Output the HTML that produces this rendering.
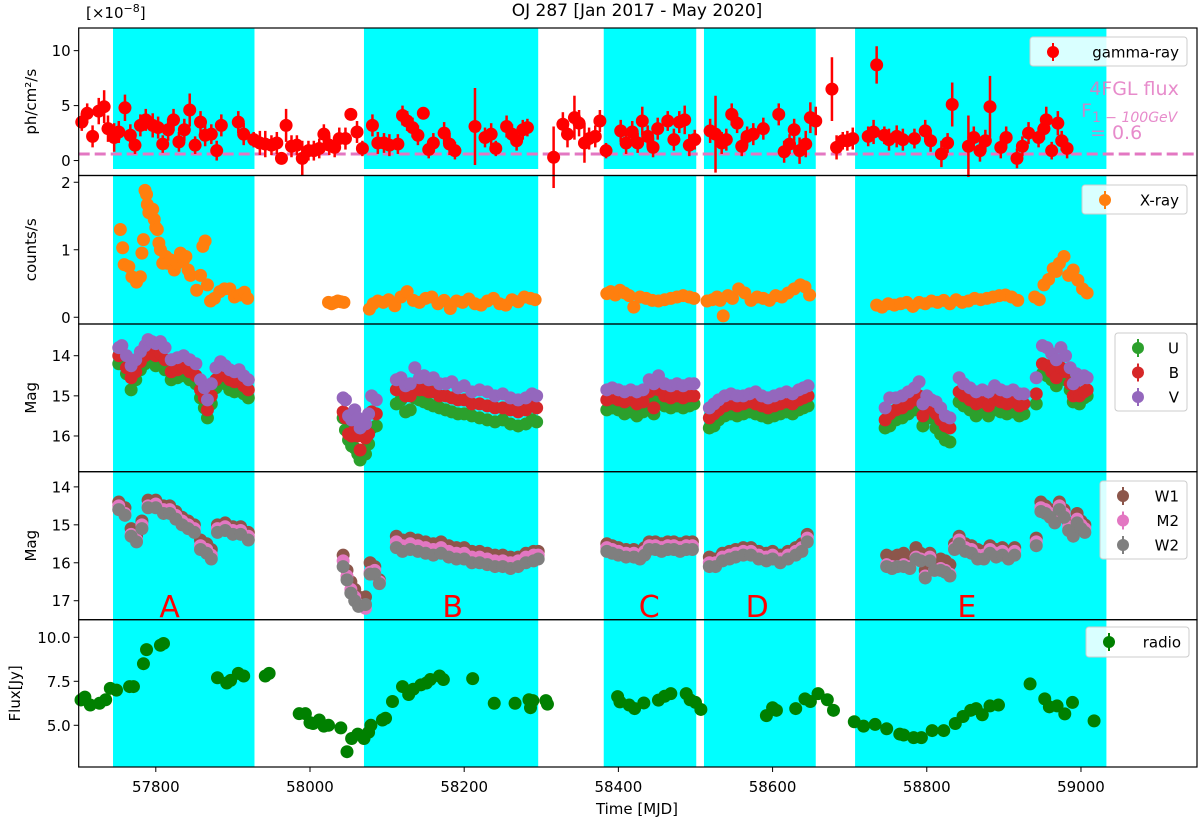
<!DOCTYPE html>
<html><head><meta charset="utf-8">
<style>
body{margin:0;background:#fff;}
svg{display:block;font-family:"DejaVu Sans","Liberation Sans",sans-serif;}
</style></head>
<body>
<svg id="chart" width="1200" height="825" viewBox="0 0 1200 825"></svg>
<script>
// ---- data ----
const bandStarts=[57744.5,58070,58381,58511,58707];
const bandEnds=[57928,58296,58501,58656,59033];
const bandLabels=["A","B","C","D","E"];
const bandLabelX=[57818,58185,58440,58580,58852];

const gT=[57704,57711,57718,57726,57733,57738,57746,57752,57760,57767,57773,57780,57787,57796,57803,57809,57816,57823,57830,57837,57844,57851,57858,57864,57872,57879,57885,57907,57914,57927,57935,57942,57950,57957,57963,57969,57976,57983,57990,57998,58005,58012,58018,58025,58032,58038,58046,58053,58061,58068,58081,58088,58096,58103,58114,58120,58126,58133,58140,58147,58154,58160,58174,58181,58188,58214,58227,58235,58241,58255,58262,58268,58276,58282,58316,58328,58334,58343,58349,58356,58362,58370,58376,58384,58403,58410,58418,58425,58431,58438,58445,58451,58464,58472,58479,58486,58492,58499,58519,58526,58534,58540,58547,58554,58560,58567,58575,58588,58608,58615,58622,58628,58635,58643,58649,58656,58677,58683,58691,58697,58704,58724,58731,58735,58745,58751,58761,58769,58784,58798,58805,58819,58827,58833,58854,58861,58869,58876,58882,58896,58903,58917,58924,58932,58945,58952,58955,58962,58970,58975,58982];
const gV=[3.5,4.3,2.2,4.5,4.9,2.9,2.1,2.6,4.8,2.3,1.4,3.2,3.7,3.2,3.0,1.5,2.8,3.7,1.7,2.8,4.6,1.4,3.5,2.3,2.4,0.9,3.2,3.5,2.4,1.9,1.6,1.5,1.4,1.6,0.2,3.2,1.3,1.4,0.2,0.9,0.9,1.1,2.4,1.4,1.2,2.0,2.0,4.2,2.6,1.1,3.2,1.6,1.6,1.4,1.5,4.1,3.6,3.0,2.3,4.3,1.0,1.6,2.5,1.5,0.9,3.1,2.1,2.4,1.1,3.1,2.4,1.8,2.8,3.0,0.3,3.3,2.4,3.9,3.4,1.6,2.0,2.2,3.6,0.9,2.7,1.6,2.6,1.6,3.6,2.2,1.2,2.9,3.6,1.9,3.5,3.7,1.4,1.9,2.7,2.4,1.6,1.9,4.2,3.4,1.3,2.2,2.4,2.9,4.2,0.8,1.5,2.8,0.9,1.5,3.9,3.6,6.5,1.2,1.8,1.8,2.0,2.2,2.6,8.7,2.3,1.9,2.2,1.9,2.0,2.7,1.8,0.6,1.6,5.1,1.3,2.1,0.9,1.8,4.9,1.2,2.1,0.2,1.3,2.5,2.1,2.9,3.7,0.9,3.4,1.8,1.1];
const gE=[0.8,0.9,1.0,1.2,1.5,1.2,1.3,1.0,1.2,1.0,0.8,1.0,1.0,1.1,1.0,0.8,1.0,1.0,0.9,1.0,1.5,0.8,1.0,1.0,0.9,0.9,1.0,1.0,1.0,0.7,1.1,1.2,0.9,1.0,0,1.5,1.0,0.9,1.6,0.9,0.9,0.9,0.9,0.9,0.9,1.0,1.0,0,1.0,0.7,1.0,1.0,0.9,1.0,0.9,0.9,0.9,0.9,0.9,0,0.8,0.9,1.0,1.0,0.8,3.5,0.9,1.0,0.7,1.0,0.9,0.9,0.9,0.8,2.8,1.1,1.2,2.0,1.2,1.8,1.0,1.0,1.0,0.7,1.0,1.0,1.0,0.9,1.3,1.0,0.9,1.0,0.9,1.0,1.0,1.3,1.0,0.9,1.1,3.5,1.0,1.0,1.0,0.9,0.9,0.9,1.0,1.0,1.0,1.0,0.9,1.0,1.2,1.2,1.4,1.3,2.9,1.1,0.8,0.9,1.0,0.9,1.1,1.7,0.8,1.0,1.0,1.0,0.9,1.0,1.0,1.2,0.9,2.0,2.8,1.0,1.0,1.0,2.8,1.0,1.0,0.9,0.9,1.0,0.9,1.0,1.2,0.8,1.1,0.9,0.9];

const xT=[57754,57757,57759,57765,57769,57775,57780,57782,57784,57786,57788,57789,57791,57796,57798,57800,57802,57804,57806,57809,57813,57815,57819,57824,57828,57832,57836,57839,57842,57845,57853,57858,57861,57864,57867,57871,57876,57883,57889,57896,57902,57909,57915,57919,58024,58028,58032,58036,58040,58044,58077,58082,58088,58095,58102,58110,58118,58126,58134,58142,58150,58158,58166,58174,58182,58190,58198,58206,58214,58222,58230,58238,58246,58254,58262,58270,58278,58286,58292,58385,58390,58396,58402,58408,58414,58420,58428,58436,58444,58452,58460,58468,58476,58484,58492,58498,58515,58522,58528,58532,58536,58542,58548,58556,58564,58572,58580,58588,58596,58604,58612,58620,58628,58636,58642,58648,58735,58742,58750,58758,58766,58774,58782,58790,58798,58806,58814,58822,58830,58838,58846,58854,58862,58870,58878,58886,58894,58902,58910,58918,58940,58946,58952,58958,58964,58968,58972,58978,58984,58990,58996,59002,59008];
const xV=[1.3,1.03,0.78,0.75,0.6,0.52,0.6,0.95,1.15,1.88,1.82,1.67,1.55,1.6,1.45,1.33,1.3,1.1,1.0,0.8,0.9,0.8,0.85,0.7,0.8,0.95,0.85,0.9,0.7,0.62,0.4,0.62,1.05,1.13,0.48,0.24,0.28,0.38,0.42,0.42,0.3,0.33,0.37,0.28,0.22,0.2,0.22,0.24,0.23,0.22,0.12,0.2,0.24,0.22,0.26,0.17,0.3,0.38,0.25,0.22,0.28,0.3,0.2,0.25,0.13,0.24,0.22,0.27,0.2,0.18,0.24,0.28,0.2,0.18,0.26,0.23,0.3,0.28,0.26,0.35,0.38,0.33,0.4,0.36,0.32,0.15,0.3,0.28,0.25,0.24,0.26,0.28,0.3,0.32,0.3,0.28,0.24,0.26,0.3,0.25,0.02,0.32,0.28,0.42,0.36,0.25,0.3,0.28,0.25,0.32,0.3,0.36,0.42,0.48,0.45,0.33,0.18,0.15,0.2,0.18,0.2,0.22,0.16,0.22,0.2,0.24,0.22,0.25,0.2,0.26,0.22,0.24,0.28,0.26,0.28,0.3,0.32,0.33,0.3,0.25,0.3,0.26,0.48,0.56,0.72,0.68,0.8,0.9,0.62,0.7,0.55,0.42,0.36,0.45,0.38];

const oT=[57752,57756,57762,57768,57774,57780,57786,57790,57795,57800,57806,57812,57820,57828,57836,57844,57852,57858,57863,57867,57872,57878,57884,57890,57896,57902,57908,57914,57920,58043,58046,58050,58054,58058,58062,58065,58072,58076,58080,58086,58112,58118,58124,58130,58136,58142,58148,58154,58160,58168,58176,58184,58192,58200,58210,58220,58230,58240,58250,58260,58270,58280,58288,58294,58385,58392,58400,58408,58416,58424,58432,58440,58446,58452,58460,58468,58476,58484,58492,58498,58518,58524,58530,58538,58546,58554,58562,58570,58578,58586,58594,58602,58610,58618,58626,58634,58640,58646,58746,58752,58760,58768,58776,58784,58790,58795,58800,58806,58812,58818,58824,58830,58842,58848,58856,58864,58872,58880,58888,58896,58904,58912,58920,58926,58942,58950,58956,58962,58968,58974,58980,58986,58990,58994,58998,59004,59008];
const oVv=[13.8,13.75,14.0,14.25,14.1,13.9,13.75,13.6,13.65,13.7,13.65,13.8,14.1,14.05,14.0,14.1,14.2,14.6,14.8,15.1,14.7,14.3,14.15,14.25,14.35,14.4,14.35,14.5,14.6,15.05,15.1,15.5,15.6,15.35,15.55,15.8,15.7,15.45,15.0,15.1,14.6,14.55,14.75,14.7,14.3,14.55,14.5,14.6,14.55,14.7,14.7,14.65,14.8,14.75,14.9,14.85,14.9,15.0,14.95,15.05,15.1,15.05,14.95,15.0,14.85,14.8,14.85,14.9,14.85,14.9,14.85,14.6,14.7,14.5,14.7,14.75,14.7,14.75,14.7,14.7,15.3,15.2,15.1,15.0,14.95,15.0,15.0,14.95,14.9,15.0,15.05,15.0,14.95,14.9,14.95,14.85,14.8,14.75,15.3,15.05,15.05,15.0,14.9,14.8,14.65,15.2,15.0,15.1,15.15,15.3,15.5,15.55,14.55,14.7,14.8,14.9,14.85,14.9,14.75,14.85,14.9,14.85,14.95,14.95,14.55,13.75,13.8,13.95,14.1,13.8,14.0,14.3,14.7,14.45,14.6,14.5,14.55];
const oB=[14.0,13.95,14.3,14.55,14.4,14.15,14.0,13.9,13.95,14.0,13.95,14.1,14.4,14.35,14.3,14.4,14.5,14.85,15.05,15.35,15.0,14.6,14.4,14.5,14.6,14.65,14.6,14.75,14.85,15.4,15.55,15.95,16.0,15.85,16.0,16.35,16.05,15.95,15.4,15.45,14.85,14.8,15.0,15.0,14.7,14.85,14.85,14.9,14.9,15.0,15.0,15.05,15.1,15.1,15.2,15.2,15.25,15.3,15.3,15.35,15.4,15.35,15.25,15.3,15.1,15.05,15.1,15.15,15.1,15.2,15.15,14.9,15.3,14.85,15.0,15.05,15.0,15.05,15.0,15.0,15.55,15.45,15.35,15.25,15.2,15.25,15.2,15.15,15.2,15.25,15.3,15.25,15.2,15.15,15.2,15.1,15.05,15.0,15.6,15.45,15.35,15.3,15.2,15.1,15.0,15.5,15.25,15.3,15.45,15.6,15.75,15.8,14.9,15.0,15.1,15.2,15.15,15.25,15.1,15.15,15.2,15.15,15.25,15.2,14.95,14.2,14.25,14.4,14.55,14.3,14.4,14.7,15.0,14.9,15.0,14.9,14.85];
const oU=[14.2,14.15,14.45,14.85,14.6,14.35,14.2,14.1,14.15,14.25,14.2,14.35,14.6,14.55,14.5,14.6,14.7,15.05,15.3,15.55,15.2,14.8,14.6,14.7,14.85,14.9,14.85,14.95,15.05,15.55,15.85,16.1,16.25,16.3,16.45,16.6,16.45,16.2,15.8,15.75,15.2,15.1,15.4,15.35,15.05,15.1,15.15,15.2,15.25,15.3,15.35,15.4,15.45,15.45,15.5,15.55,15.6,15.65,15.6,15.7,15.75,15.7,15.6,15.65,15.35,15.3,15.35,15.45,15.4,15.5,15.4,15.15,15.45,15.1,15.25,15.3,15.25,15.3,15.25,15.2,15.8,15.75,15.6,15.5,15.45,15.5,15.45,15.4,15.45,15.5,15.55,15.5,15.45,15.4,15.45,15.35,15.3,15.25,15.8,15.75,15.6,15.55,15.45,15.35,15.25,15.75,15.5,15.55,15.8,15.95,16.1,16.15,15.15,15.25,15.35,15.5,15.4,15.5,15.35,15.4,15.45,15.4,15.5,15.45,15.2,14.45,14.5,14.6,14.75,14.5,14.6,14.85,15.15,15.1,15.2,15.05,15.0];

const uT=[57752,57760,57768,57775,57782,57790,57800,57810,57818,57826,57834,57842,57850,57858,57866,57872,57880,57890,57900,57910,57920,58043,58048,58053,58058,58063,58072,58078,58084,58090,58112,58120,58130,58140,58150,58160,58170,58180,58190,58200,58210,58220,58230,58240,58250,58260,58270,58280,58290,58296,58385,58392,58400,58410,58420,58428,58434,58440,58448,58456,58464,58472,58480,58488,58496,58518,58526,58535,58544,58552,58562,58572,58582,58592,58600,58610,58620,58630,58638,58645,58748,58755,58762,58770,58778,58786,58792,58798,58804,58810,58818,58824,58830,58836,58842,58850,58858,58866,58874,58882,58890,58898,58906,58914,58942,58948,58954,58960,58966,58972,58978,58984,58990,58995,59000,59005];
const uW1=[14.4,14.55,15.1,15.3,14.9,14.35,14.35,14.5,14.5,14.65,14.8,14.9,15.0,15.4,15.5,15.65,15.0,14.95,15.05,15.05,15.2,15.8,16.2,16.5,16.7,16.9,16.9,16.0,16.1,16.45,15.3,15.4,15.35,15.4,15.45,15.5,15.45,15.55,15.6,15.6,15.7,15.7,15.75,15.8,15.8,15.85,15.85,15.75,15.7,15.7,15.5,15.55,15.6,15.65,15.65,15.7,15.6,15.45,15.45,15.5,15.45,15.45,15.5,15.45,15.45,15.85,15.9,15.75,15.7,15.65,15.6,15.6,15.7,15.75,15.7,15.8,15.7,15.6,15.5,15.25,15.8,15.85,15.8,15.75,15.85,15.6,15.75,16.2,15.75,16.0,15.9,15.95,16.05,15.5,15.3,15.5,15.55,15.65,15.7,15.55,15.65,15.6,15.7,15.6,15.35,14.4,14.5,14.6,14.75,14.4,14.6,14.95,15.0,14.7,14.9,15.0];
const uM2=[14.5,14.7,15.25,15.4,15.0,14.5,14.45,14.6,14.6,14.75,14.9,15.0,15.1,15.55,15.65,15.8,15.1,15.05,15.15,15.15,15.3,15.95,16.35,16.7,16.9,17.1,17.2,16.25,16.2,16.5,15.45,15.55,15.5,15.55,15.6,15.65,15.6,15.7,15.75,15.75,15.85,15.85,15.9,15.95,15.95,16.0,15.95,15.85,15.8,15.8,15.6,15.65,15.7,15.75,15.75,15.8,15.7,15.55,15.55,15.6,15.55,15.55,15.6,15.55,15.55,16.0,16.0,15.85,15.8,15.75,15.7,15.7,15.8,15.85,15.8,15.9,15.8,15.7,15.6,15.35,16.05,16.1,16.1,16.05,16.1,15.85,15.9,16.35,15.85,16.2,16.15,16.2,16.3,15.6,15.4,15.6,15.65,15.8,15.8,15.65,15.75,15.7,15.8,15.7,15.45,14.55,14.6,14.7,14.85,14.5,14.7,15.05,15.2,14.85,15.0,15.1];
const uW2=[14.6,14.75,15.3,15.45,15.1,14.55,14.55,14.7,14.7,14.85,15.0,15.1,15.2,15.65,15.75,15.9,15.2,15.15,15.25,15.25,15.4,16.1,16.45,16.8,17.0,17.15,17.1,16.3,16.3,16.55,15.6,15.7,15.65,15.7,15.75,15.8,15.75,15.85,15.9,15.9,16.0,16.0,16.05,16.1,16.1,16.15,16.1,16.0,15.95,15.9,15.7,15.75,15.8,15.85,15.85,15.9,15.8,15.65,15.65,15.7,15.65,15.65,15.7,15.65,15.65,16.1,16.1,15.95,15.9,15.85,15.8,15.8,15.9,15.95,15.9,16.0,15.9,15.8,15.7,15.45,16.1,16.15,16.1,16.1,16.15,15.9,15.95,16.4,15.95,16.2,16.2,16.25,16.35,15.65,15.5,15.7,15.75,15.9,15.9,15.75,15.85,15.8,15.9,15.8,15.55,14.65,14.7,14.8,14.95,14.6,14.8,15.15,15.3,14.95,15.1,15.2];

const rT=[57703,57708,57715,57727,57735,57741,57749,57766,57771,57784,57788,57806,57810,57880,57892,57897,57907,57914,57942,57947,57986,57994,58000,58004,58012,58018,58024,58040,58048,58054,58062,58070,58076,58079,58094,58098,58107,58120,58128,58134,58144,58151,58156,58168,58173,58211,58239,58266,58284,58286,58289,58306,58308,58399,58402,58414,58421,58433,58452,58460,58468,58488,58493,58500,58507,58592,58600,58605,58630,58642,58649,58659,58671,58679,58706,58718,58733,58748,58765,58770,58783,58793,58807,58822,58837,58847,58857,58864,58872,58882,58893,58934,58953,58959,58969,58979,58989,59017];
const rV=[6.44,6.6,6.15,6.25,6.45,7.1,7.0,7.2,7.2,8.5,9.3,9.55,9.65,7.7,7.4,7.55,7.95,7.8,7.8,7.95,5.66,5.66,5.15,5.1,5.3,4.95,5.0,4.85,3.5,4.25,4.5,4.25,4.6,5.0,5.3,5.4,6.35,7.2,6.75,7.05,7.3,7.4,7.6,7.8,7.6,7.65,6.25,6.25,6.45,6.0,6.4,6.4,6.2,6.63,6.33,6.15,5.95,6.27,6.43,6.65,6.8,6.8,6.45,6.3,5.9,5.55,6.0,5.85,5.95,6.5,6.35,6.8,6.45,5.85,5.2,4.95,5.05,4.8,4.5,4.45,4.3,4.3,4.7,4.7,5.1,5.5,5.85,5.95,5.6,6.1,6.15,7.35,6.5,6.05,6.1,5.65,6.3,5.25];

const t1Ticks=[0,5,10], t2Ticks=[0,1,2], t3Ticks=[14,15,16], t4Ticks=[14,15,16,17], t5Ticks=[5.0,7.5,10.0];
const t5Labels=["5.0","7.5","10.0"];
const xTicks=[57800,58000,58200,58400,58600,58800,59000];

// ---- layout ----
const L=78.7,R=1197,BOT=767;
const X0=57700,X1=59150.5;
const xs=v=>L+(v-X0)/(X1-X0)*(R-L);
const panels=[
 {top:28,bot:175.5,y0:-1.36,y1:12.06},
 {top:175.5,bot:324,y0:-0.1,y1:2.1},
 {top:324,bot:471.7,y0:16.89,y1:13.21},
 {top:471.7,bot:619.7,y0:17.5,y1:13.6},
 {top:619.7,bot:BOT,y0:2.63,y1:11.0}
];
const ys=(p,v)=>{const P=panels[p];return P.bot-(v-P.y0)/(P.y1-P.y0)*(P.bot-P.top);};

const NS="http://www.w3.org/2000/svg";
const svg=document.getElementById('chart');
function mk(tag,attrs,parent){const e=document.createElementNS(NS,tag);for(const k in attrs)e.setAttribute(k,attrs[k]);(parent||svg).appendChild(e);return e;}

for(let i=0;i<bandStarts.length;i++){
  const r=mk('rect',{x:xs(bandStarts[i]),y:panels[0].top,width:xs(bandEnds[i])-xs(bandStarts[i]),height:BOT-28,fill:'#00ffff'});
  
  
}
const wg=mk('rect',{x:L,y:169,width:R-L,height:6.5,fill:'#fff'});



const dl=mk('line',{x1:L,x2:R,y1:ys(0,0.6),y2:ys(0,0.6),stroke:'#e377c2','stroke-width':3,'stroke-dasharray':'11,5'});



function dot(p,t,v,col,name){
  const c=mk('circle',{cx:xs(t),cy:ys(p,v),r:6.5,fill:col});
  
  
}
for(let i=0;i<gT.length;i++){
  if(gE[i]>0){
    const e=mk('line',{x1:xs(gT[i]),x2:xs(gT[i]),y1:ys(0,gV[i]-gE[i]),y2:ys(0,gV[i]+gE[i]),stroke:'#ff0000','stroke-width':2.5});
    
    
  }
  dot(0,gT[i],gV[i],'#ff0000','gamma-point');
}
for(let i=0;i<xT.length;i++) dot(1,xT[i],xV[i],'#ff7f0e','xray-point');
for(let i=0;i<oT.length;i++) dot(2,oT[i],oU[i],'#2ca02c','u-point');
for(let i=0;i<oT.length;i++) dot(2,oT[i],oB[i],'#d62728','b-point');
for(let i=0;i<oT.length;i++) dot(2,oT[i],oVv[i],'#9467bd','v-point');
for(let i=0;i<uT.length;i++) dot(3,uT[i],uW1[i],'#8c564b','w1-point');
for(let i=0;i<uT.length;i++) dot(3,uT[i],uM2[i],'#e377c2','m2-point');
for(let i=0;i<uT.length;i++) dot(3,uT[i],uW2[i],'#7f7f7f','w2-point');
for(let i=0;i<rT.length;i++) dot(4,rT[i],rV[i],'#008000','radio-point');

for(let i=0;i<bandLabels.length;i++){
  const t=mk('text',{x:xs(bandLabelX[i]),y:617,'text-anchor':'middle','font-size':30,fill:'#ff0000'});
  t.textContent=bandLabels[i];
  
  
}

const tickSets=[t1Ticks,t2Ticks,t3Ticks,t4Ticks,t5Ticks];
const ylabels=["ph/cm²/s","counts/s","Mag","Mag","Flux[Jy]"];
const ylabX=[36,36,36,36,20];
for(let p=0;p<5;p++){
  const P=panels[p];
  const fr=mk('rect',{x:L,y:P.top,width:R-L,height:P.bot-P.top,fill:'none',stroke:'#000','stroke-width':1.2});
  
  
  tickSets[p].forEach((v,j)=>{
    const y=ys(p,v);
    mk('line',{x1:L-5,x2:L,y1:y,y2:y,stroke:'#000','stroke-width':1});
    const t=mk('text',{x:L-8,y:y+5.5,'text-anchor':'end','font-size':15,fill:'#000'});
    t.textContent=p===4?t5Labels[j]:String(v);
    
    
  });
  const cy=(P.top+P.bot)/2;
  const yl=mk('text',{x:ylabX[p],y:cy,'text-anchor':'middle','font-size':15,fill:'#000',transform:`rotate(-90 ${ylabX[p]} ${cy})`});
  yl.textContent=ylabels[p];
  
  
}
xTicks.forEach(v=>{
  const x=xs(v);
  mk('line',{x1:x,x2:x,y1:BOT,y2:BOT+5,stroke:'#000','stroke-width':1});
  const t=mk('text',{x:x,y:792,'text-anchor':'middle','font-size':15,fill:'#000'});
  t.textContent=String(v);
  
  
});

function legend(x,y,w,h,items,name){
  const g=mk('g',{});
  
  
  mk('rect',{x:x,y:y,width:w,height:h,rx:3,fill:'#fff','fill-opacity':0.85,stroke:'#ccc'},g);
  items.forEach((it,i)=>{
    const cy=y+15+i*24.5;
    mk('line',{x1:x+23,x2:x+23,y1:cy-9,y2:cy+9,stroke:it[1],'stroke-width':2},g);
    mk('circle',{cx:x+23,cy:cy,r:6,fill:it[1]},g);
    const t=mk('text',{x:x+w-8,y:cy+5.5,'text-anchor':'end','font-size':15,fill:'#000'},g);
    t.textContent=it[0];
  });
}
legend(1030,37,157,29,[["gamma-ray","#ff0000"]],'gamma-legend');
legend(1082,185,105,29,[["X-ray","#ff7f0e"]],'xray-legend');
legend(1115,333,72,78,[["U","#2ca02c"],["B","#d62728"],["V","#9467bd"]],'optical-legend');
legend(1100,481,87,78,[["W1","#8c564b"],["M2","#e377c2"],["W2","#7f7f7f"]],'uv-legend');
legend(1086,627,103,30,[["radio","#008000"]],'radio-legend');
</script>
<div style="position:absolute;left:0;top:0;width:1200px;height:825px;pointer-events:none">
<svg width="1200" height="825" style="position:absolute;left:0;top:0;font-family:'DejaVu Sans','Liberation Sans',sans-serif">
<text x="637" y="16" text-anchor="middle" font-size="17" fill="#000">OJ 287 [Jan 2017 - May 2020]</text>
<text x="86" y="18" font-size="15" fill="#000">[×10<tspan dy="-6" font-size="11">−8</tspan><tspan dy="6">]</tspan></text>
<text x="637" y="814" text-anchor="middle" font-size="15" fill="#000">Time [MJD]</text>
<g fill="#e377c2" fill-opacity="0.85" font-size="19">
<text x="1134" y="95" text-anchor="middle">4FGL flux</text>
<text x="1081" y="117">F<tspan dy="5" font-size="14">1 − </tspan><tspan font-size="14" font-style="italic">100GeV</tspan></text>
<text x="1090" y="139">= 0.6</text>
</g>
</svg>
</div>
</body></html>
